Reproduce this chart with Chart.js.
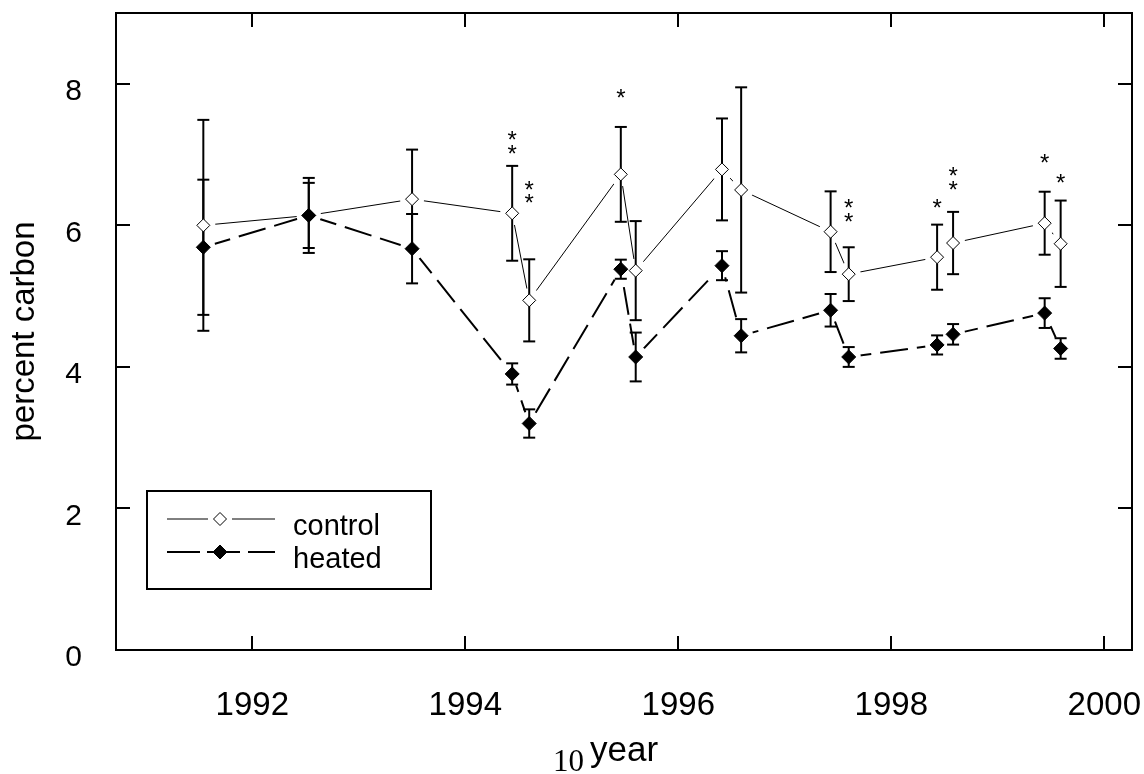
<!DOCTYPE html>
<html>
<head>
<meta charset="utf-8">
<script src="https://cdn.jsdelivr.net/npm/chart.js@4.4.1/dist/chart.umd.min.js"></script>
<style>
html,body{margin:0;padding:0;background:#fff;}
#wrap{width:1144px;height:774px;}
</style>
</head>
<body>
<div id="wrap"><canvas id="c" width="1144" height="774"></canvas></div>
<script>
// ---- data ----
const years      = [1991.54, 1992.53, 1993.50, 1994.44, 1994.60, 1995.46, 1995.60, 1996.41, 1996.59, 1997.43, 1997.60, 1998.43, 1998.58, 1999.44, 1999.59];
const control    = [6.00, 6.14, 6.37, 6.17, 4.94, 6.72, 5.36, 6.79, 6.50, 5.91, 5.31, 5.55, 5.75, 6.03, 5.74];
const controlErr = [1.49, 0.53, 0.70, 0.67, 0.58, 0.67, 0.70, 0.72, 1.45, 0.57, 0.38, 0.46, 0.44, 0.445, 0.61];
const heated     = [5.69, 6.14, 5.67, 3.90, 3.20, 5.38, 4.14, 5.43, 4.44, 4.80, 4.14, 4.31, 4.46, 4.76, 4.26];
const heatedErr  = [0.955, 0.46, 0.49, 0.15, 0.20, 0.135, 0.345, 0.205, 0.235, 0.23, 0.14, 0.135, 0.145, 0.21, 0.145];
// significance asterisks: index of the sample and height (percent carbon)
const starIndex  = [3, 3, 4, 4, 5, 10, 10, 11, 12, 12, 13, 14];
const starValue  = [7.29, 7.08, 6.58, 6.39, 7.88, 6.32, 6.13, 6.32, 6.78, 6.58, 6.96, 6.67];
const xTickValues = [1992, 1994, 1996, 1998, 2000];
const yTickValues = [0, 2, 4, 6, 8];
const seriesNames = ['control', 'heated'];

const SANS = "'Liberation Sans', Arial, Helvetica, sans-serif";
const pts = arr => arr.map((v, i) => ({x: years[i], y: v}));

function seg(ctx, x1, y1, x2, y2) { ctx.beginPath(); ctx.moveTo(x1, y1); ctx.lineTo(x2, y2); ctx.stroke(); }
function noPad(s) { s.paddingLeft = 0; s.paddingRight = 0; s.paddingTop = 0; s.paddingBottom = 0; }

const errorBars = {
  id: 'errorBars',
  afterDatasetDraw(chart, args) {
    if (args.index !== 4) return;
    const xs = chart.scales.x, ys = chart.scales.y, ctx = chart.ctx;
    ctx.save();
    ctx.strokeStyle = '#000'; ctx.lineWidth = 2;
    [[control, controlErr], [heated, heatedErr]].forEach(([m, e]) => {
      m.forEach((v, i) => {
        const x = xs.getPixelForValue(years[i]);
        const y1 = ys.getPixelForValue(v + e[i]);
        const y2 = ys.getPixelForValue(v - e[i]);
        seg(ctx, x, y1, x, y2);
        seg(ctx, x - 6, y1, x + 6, y1);
        seg(ctx, x - 6, y2, x + 6, y2);
      });
    });
    ctx.restore();
  }
};

const decor = {
  id: 'decor',
  afterDraw(chart) {
    const ctx = chart.ctx, a = chart.chartArea, xs = chart.scales.x, ys = chart.scales.y;
    ctx.save();
    // frame
    ctx.strokeStyle = '#000'; ctx.lineWidth = 2;
    ctx.strokeRect(a.left, a.top, a.right - a.left, a.bottom - a.top);
    // inward ticks on all sides
    xTickValues.forEach(v => {
      const x = Math.round(xs.getPixelForValue(v));
      seg(ctx, x, a.bottom, x, a.bottom - 14);
      seg(ctx, x, a.top, x, a.top + 14);
    });
    yTickValues.forEach(v => {
      const y = Math.round(ys.getPixelForValue(v));
      seg(ctx, a.left, y, a.left + 14, y);
      seg(ctx, a.right, y, a.right - 14, y);
    });
    // asterisks
    ctx.fillStyle = '#000';
    ctx.font = '24px ' + SANS;
    ctx.textAlign = 'center'; ctx.textBaseline = 'alphabetic';
    starIndex.forEach((idx, k) => {
      const x = xs.getPixelForValue(years[idx]);
      const y = ys.getPixelForValue(starValue[k]);
      ctx.fillText('*', x, y + 13.5);
    });
    // legend
    const H = Chart.helpers;
    ctx.lineWidth = 2; ctx.strokeStyle = '#000';
    ctx.strokeRect(147, 491, 284, 98);
    ctx.lineWidth = 1;
    seg(ctx, 167, 519, 208, 519);
    seg(ctx, 232, 519, 275, 519);
    ctx.fillStyle = '#fff';
    H.drawPoint(ctx, {pointStyle: 'rectRot', radius: 6.5, borderWidth: 1}, 220, 519);
    ctx.lineWidth = 2;
    seg(ctx, 167, 552, 200, 552);
    seg(ctx, 207, 552, 240, 552);
    seg(ctx, 248, 552, 275, 552);
    ctx.fillStyle = '#000'; ctx.lineWidth = 1;
    H.drawPoint(ctx, {pointStyle: 'rectRot', radius: 7, borderWidth: 1}, 220, 552);
    ctx.fillStyle = '#000';
    ctx.font = '29px ' + SANS; ctx.textAlign = 'left'; ctx.textBaseline = 'alphabetic';
    ctx.fillText(seriesNames[0], 293, 535);
    ctx.fillText(seriesNames[1], 293, 568);
    // stray "10" next to axis title
    ctx.font = "31px 'Liberation Serif', 'Times New Roman', serif";
    ctx.fillText('10', 553, 771);
    ctx.restore();
  }
};

new Chart(document.getElementById('c'), {
  type: 'scatter',
  data: {
    datasets: [
      {label: seriesNames[0], data: pts(control), showLine: false, pointStyle: 'rectRot', pointRadius: 6.5,
       pointBackgroundColor: '#fff', pointBorderColor: '#000', pointBorderWidth: 1, order: 1},
      {label: seriesNames[1], data: pts(heated), showLine: false, pointStyle: 'rectRot', pointRadius: 7,
       pointBackgroundColor: '#000', pointBorderColor: '#000', pointBorderWidth: 1, order: 0},
      {data: pts(control), showLine: true, borderColor: '#000', borderWidth: 1, pointRadius: 0, order: 5},
      {data: pts(heated), showLine: true, borderColor: '#000', borderWidth: 2, borderDash: [28, 9], pointRadius: 0, order: 5},
      {data: pts(control), showLine: false, pointStyle: 'circle', pointRadius: 12, pointBackgroundColor: '#fff',
       pointBorderColor: '#fff', pointBorderWidth: 0, order: 3},
      {data: pts(heated), showLine: false, pointStyle: 'circle', pointRadius: 12, pointBackgroundColor: '#fff',
       pointBorderColor: '#fff', pointBorderWidth: 0, order: 3}
    ]
  },
  options: {
    responsive: false,
    animation: false,
    events: [],
    layout: {padding: {top: 13, right: 8, left: 0, bottom: 0}},
    plugins: {legend: {display: false}, tooltip: {enabled: false}},
    scales: {
      x: {
        type: 'linear', min: 1990.72, max: 2000.26,
        afterFit: s => { s.height = 124; noPad(s); },
        afterBuildTicks: s => { s.ticks = xTickValues.map(v => ({value: v})); },
        grid: {display: false, drawTicks: false},
        border: {display: false},
        ticks: {color: '#000', font: {family: SANS, size: 33}, padding: 36, callback: v => String(v), maxRotation: 0, autoSkip: false},
        title: {display: true, text: 'year', color: '#000', font: {family: SANS, size: 35}, padding: {top: 2, bottom: 2}}
      },
      y: {
        type: 'linear', min: 0, max: 9,
        afterFit: s => { s.width = 116; noPad(s); },
        afterBuildTicks: s => { s.ticks = yTickValues.map(v => ({value: v})); },
        grid: {display: false, drawTicks: false},
        border: {display: false},
        ticks: {color: '#000', font: {family: SANS, size: 30}, padding: 34, labelOffset: 8, callback: v => String(v)},
        title: {display: true, text: 'percent carbon', color: '#000', font: {family: SANS, size: 33}, padding: {top: 5, bottom: 0}}
      }
    }
  },
  plugins: [errorBars, decor]
});
</script>
</body>
</html>
